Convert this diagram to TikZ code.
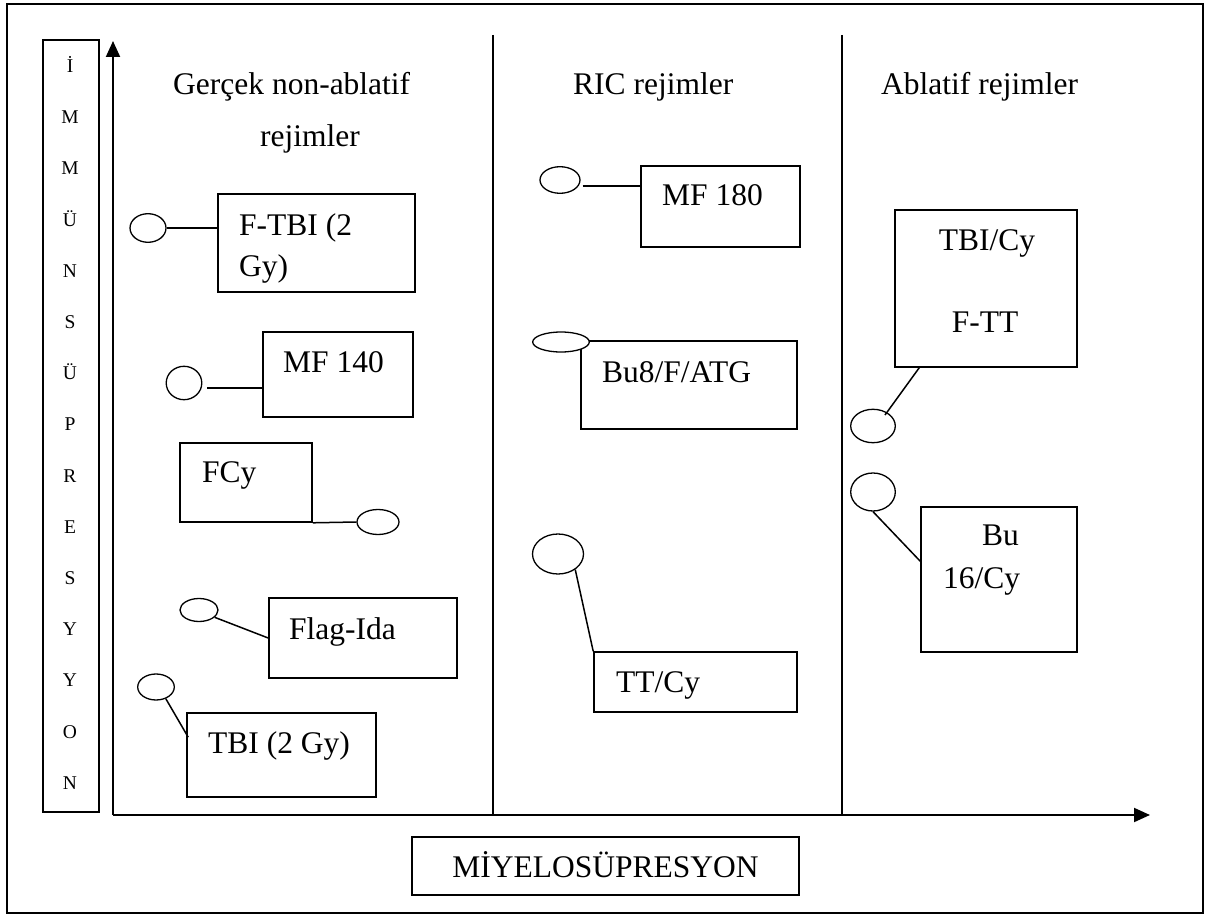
\documentclass[tikz,border=0pt]{standalone}
\usepackage{fontspec}
\setmainfont{Liberation Serif}
\usetikzlibrary{shapes.geometric,arrows.meta,calc}
\begin{document}
\begin{tikzpicture}[x=1pt,y=-1pt,
  box/.style={draw,line width=1.6pt,rectangle,inner sep=0pt},
  oval/.style={draw,ellipse,inner sep=0pt,line width=1.3pt,fill=white},
  lbl/.style={anchor=base west,inner sep=0pt,font=\fontsize{31.5}{36}\selectfont},
  clbl/.style={anchor=base,inner sep=0pt,font=\fontsize{31.5}{36}\selectfont},
  vlbl/.style={anchor=base,inner sep=0pt,font=\fontsize{19.5}{22}\selectfont},
  link/.style={line width=1.5pt},
  axisline/.style={line width=2pt,-{Triangle[length=16pt,width=14pt]}},
  divider/.style={line width=1.4pt}]
\useasboundingbox (0,0) rectangle (1208,915);
% outer frame
\draw[line width=2pt] (7,4) rectangle (1203,913);

% vertical label box
\node[box,minimum width=56,minimum height=772] (vbox) at (71,426) {};
\foreach \ch [count=\i from 0] in {İ,M,M,Ü,N,S,Ü,P,R,E,S,Y,Y,O,N}
  \node[vlbl] (v\i) at (70,{72.5+51.2*\i}) {\ch};

% axes
\coordinate (O) at (113,815);
\coordinate (ytip) at (113,41);
\coordinate (xtip) at (1150,815);
\draw[axisline] (O) -- (ytip);
\draw[axisline] (O) -- (xtip);

% dividers
\coordinate (d1t) at (493,35); \coordinate (d1b) at (493,815);
\coordinate (d2t) at (842,35); \coordinate (d2b) at (842,815);
\draw[divider] (d1t) -- (d1b);
\draw[divider] (d2t) -- (d2b);

% headers
\node[lbl] (h1a) at (173,95) {Gerçek non-ablatif};
\node[lbl] (h1b) at (260,147) {rejimler};
\node[lbl] (h2) at (573,95) {RIC rejimler};
\node[lbl] (h3) at (881,95) {Ablatif rejimler};

% x-axis label
\node[box,minimum width=387,minimum height=58] (myelo) at (605.5,866) {};
\node[clbl] (myelot) at (605.5,877) {MİYELOSÜPRESYON};

% ---- column 1 ----
\node[box,minimum width=197,minimum height=98] (ftbi) at (316.5,243) {};
\node[lbl] (ftbit1) at (239,235) {F-TBI (2};
\node[lbl] (ftbit2) at (239,276) {Gy)};
\node[oval,minimum width=36,minimum height=28.6] (c1) at (148,228) {};
\draw[link] (c1.east) -- (c1.east -| ftbi.west);

\node[box,minimum width=150,minimum height=85] (mf140) at (338,374.5) {};
\node[lbl] (mf140t) at (283,372) {MF 140};
\node[oval,minimum width=35.6,minimum height=33.4] (c2) at (184,383) {};
\coordinate (l2) at ([shift={(5,5)}]c2.east);
\draw[link] (l2) -- (l2 -| mf140.west);

\node[box,minimum width=132,minimum height=79] (fcy) at (246,482.5) {};
\node[lbl] (fcyt) at (202,482) {FCy};
\node[oval,minimum width=42,minimum height=25] (c3) at (378,522) {};
\draw[link] (fcy.south east) -- (c3.west);

\node[box,minimum width=188,minimum height=80] (flag) at (363,638) {};
\node[lbl] (flagt) at (289,639) {Flag-Ida};
\node[oval,minimum width=38,minimum height=23] (c4) at (199,610) {};
\draw[link] (c4.-25) -- (flag.west);

\node[box,minimum width=189,minimum height=84] (tbi) at (281.5,755) {};
\node[lbl] (tbit) at (208,753) {TBI (2 Gy)};
\node[oval,minimum width=36.6,minimum height=26] (c5) at (156,687) {};
\draw[link] (c5.-50) -- ([shift={(2,25)}]tbi.north west);

% ---- column 2 ----
\node[box,minimum width=159,minimum height=81] (mf180) at (720.5,206.5) {};
\node[lbl] (mf180t) at (662,205) {MF 180};
\node[oval,minimum width=40,minimum height=26.6] (c6) at (560,180) {};
\coordinate (l6) at ([shift={(2,6)}]c6.east);
\draw[link] (l6) -- (l6 -| mf180.west);

\node[box,minimum width=216,minimum height=88] (bu8) at (689,385) {};
\node[lbl] (bu8t) at (602,382) {Bu8/F/ATG};
\node[oval,minimum width=56.6,minimum height=20] (c7) at (561,342) {};

\node[box,minimum width=203,minimum height=60] (ttcy) at (695.5,682) {};
\node[lbl] (ttcyt) at (616,692) {TT/Cy};
\node[oval,minimum width=51,minimum height=40] (c8) at (558,554) {};
\draw[link] (c8.-42) -- (ttcy.north west);

% ---- column 3 ----
\node[box,minimum width=182,minimum height=157] (tbicy) at (986,288.5) {};
\node[clbl] (tbicyt1) at (987,250) {TBI/Cy};
\node[clbl] (tbicyt2) at (985,332) {F-TT};
\node[oval,minimum width=44.6,minimum height=33.4] (c9) at (873,426) {};
\draw[link] ([shift={(12,-11)}]c9.center) -- ([shift={(25,0)}]tbicy.south west);

\node[box,minimum width=156,minimum height=145] (bu16) at (999,579.5) {};
\node[lbl] (bu16t1) at (982,545) {Bu};
\node[lbl] (bu16t2) at (943,588) {16/Cy};
\node[oval,minimum width=44.6,minimum height=38] (c10) at (873,492) {};
\draw[link] (c10.south) -- ([shift={(0,55)}]bu16.north west);
\end{tikzpicture}
\end{document}
